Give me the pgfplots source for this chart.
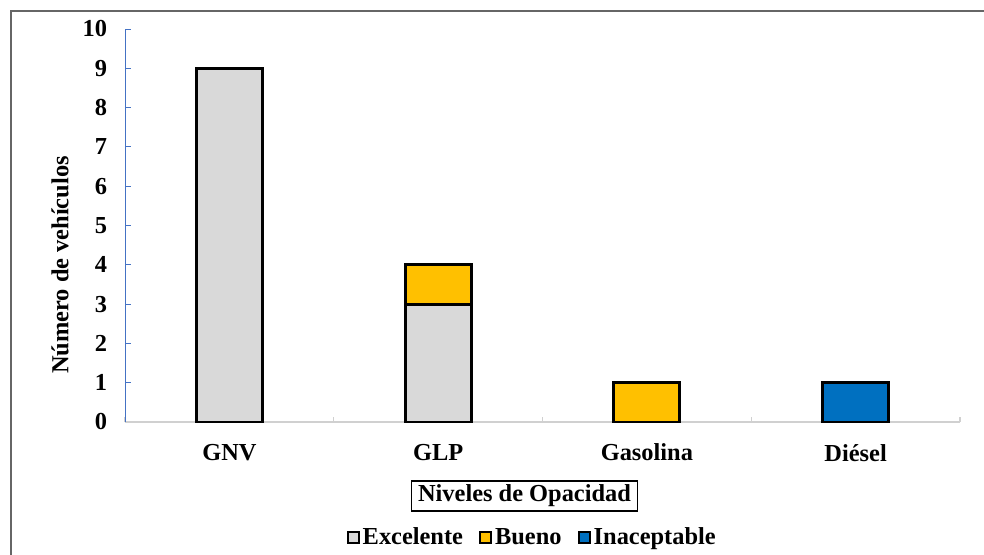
\documentclass[border=0pt]{standalone}
\usepackage{fontspec}
\setmainfont{Liberation Serif}
\usepackage{pgfplots}
\pgfplotsset{compat=1.18}

\definecolor{excel}{HTML}{D9D9D9}
\definecolor{bueno}{HTML}{FFC000}
\definecolor{inac}{HTML}{0070C0}
\definecolor{yaxis}{HTML}{4472C4}
\definecolor{xaxis}{HTML}{D0D0D0}
\definecolor{marco}{HTML}{666666}

\newcommand\chartfont{\fontsize{18.3}{21}\selectfont\bfseries}

\begin{document}
\begin{tikzpicture}
\begin{scope}[x=0.75pt,y=0.75pt]
  \useasboundingbox (0,0) rectangle (984,554);
  % outer frame
  \draw[marco, line width=1.6pt] (11,-5) -- (11,543) -- (990,543);
\end{scope}
\begin{axis}[
  at={(93.75pt,99pt)}, anchor=south west,
  scale only axis, width=626.25pt, height=294.75pt,
  xmin=-0.5, xmax=3.5, ymin=0, ymax=10,
  ybar stacked, bar width=49.5pt,
  axis lines*=left,
  x axis line style={xaxis, line width=0.9pt},
  y axis line style={yaxis, line width=0.7pt},
  tick align=inside,
  xtick={0,1,2,3},
  xticklabels={GNV, GLP, Gasolina, Diésel},
  major x tick style={draw=none},
  minor xtick={-0.5,0.5,1.5,2.5,3.5},
  minor x tick style={xaxis, line width=0.9pt},
  minor tick length=4pt,
  ytick={0,1,...,10},
  major y tick style={yaxis, line width=0.7pt},
  major tick length=4.5pt,
  ticklabel style={font=\chartfont},
  /pgf/number format/assume math mode=true,
  yticklabel style={xshift=-10pt},
  xticklabel style={yshift=-13pt},
  legend style={at={(0.488,-0.30)}, anchor=center, draw=none,
    font=\chartfont, inner sep=0pt,
    nodes={text height=1.5ex, text depth=0.3ex, inner xsep=2pt},
    /tikz/every even column/.append style={column sep=10pt}},
  legend columns=3,
  legend image code/.code={\draw[#1, draw=black, line width=1.5pt]
    (0pt,-1.6pt) rectangle (8.6pt,7pt);},
  every axis plot/.append style={draw=black, line width=2.2pt},
]
\addplot[fill=excel] coordinates {(0,9) (1,3) (2,0) (3,0)};
\addplot[fill=bueno] coordinates {(0,0) (1,1) (2,1) (3,0)};
\addplot[fill=inac] coordinates {(0,0) (1,0) (2,0) (3,1)};
\legend{Excelente, Bueno, Inaceptable}
\end{axis}
\begin{scope}[x=0.75pt,y=0.75pt]
  \node[rotate=90, font=\chartfont] at (60,289) {Número de vehículos};
  \node[draw=black, line width=1.1pt, font=\chartfont, inner xsep=5pt, inner ysep=3pt]
    at (524.5,58) {Niveles de Opacidad};
\end{scope}
\end{tikzpicture}
\end{document}
